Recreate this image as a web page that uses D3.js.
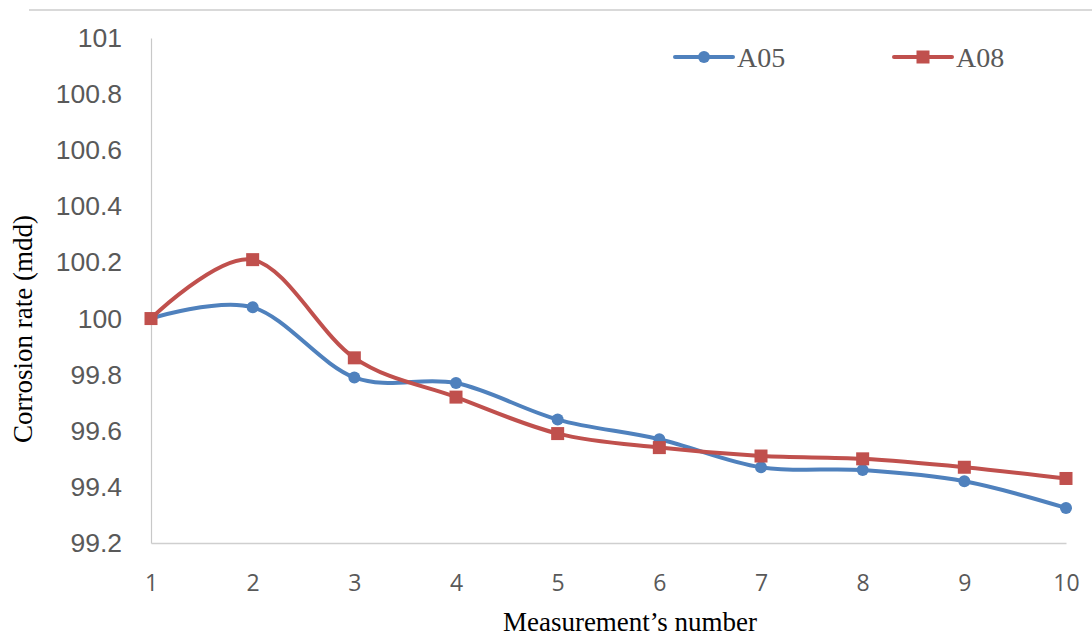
<!DOCTYPE html>
<html>
<head>
<meta charset="utf-8">
<script src="https://cdn.jsdelivr.net/npm/d3@7"></script>
<style>
  html, body { margin: 0; padding: 0; background: #fff; }
  svg { display: block; }
</style>
</head>
<body>
<svg id="chart" width="1092" height="638"></svg>
<script>
const categories = [1, 2, 3, 4, 5, 6, 7, 8, 9, 10];
const seriesA05 = [100.0, 100.04, 99.79, 99.77, 99.64, 99.57, 99.47, 99.46, 99.42, 99.325];
const seriesA08 = [100.0, 100.21, 99.86, 99.72, 99.59, 99.54, 99.51, 99.50, 99.47, 99.43];
const yTicks = [99.2, 99.4, 99.6, 99.8, 100, 100.2, 100.4, 100.6, 100.8, 101];
const yTickLabels = ["99.2", "99.4", "99.6", "99.8", "100", "100.2", "100.4", "100.6", "100.8", "101"];
const seriesNames = ["A05", "A08"];
const seriesColors = ["#4f81bd", "#c0504d"];

const svg = d3.select("#chart");
svg.append("rect").attr("width", 1092).attr("height", 638).attr("fill", "#fff");

// top border
svg.append("line").attr("x1", 29).attr("x2", 1092).attr("y1", 10).attr("y2", 10)
  .attr("stroke", "#d9d9d9").attr("stroke-width", 2);

const x = d3.scalePoint().domain(categories).range([151, 1066]);
const y = d3.scaleLinear().domain([99.2, 101]).range([543, 38]);

// y axis
const yAxis = d3.axisLeft(y).tickValues(yTicks)
  .tickFormat((d, i) => yTickLabels[i]).tickSize(0).tickPadding(29);
const gy = svg.append("g").attr("transform", "translate(151,0)").call(yAxis);
gy.select(".domain").attr("stroke", "#c8c8c8").attr("stroke-width", 1.2);
gy.selectAll("text").attr("fill", "#595959").attr("font-family", "'Liberation Sans', Arial, sans-serif")
  .attr("font-size", 26.5);

// x axis
const xAxis = d3.axisBottom(x).tickSize(0).tickPadding(32);
const gx = svg.append("g").attr("transform", "translate(0,543)").call(xAxis);
gx.select(".domain").attr("stroke", "#cfcfcf").attr("stroke-width", 1.5);
gx.selectAll("text").attr("fill", "#595959").attr("font-family", "'Open Sans', sans-serif")
  .attr("font-size", 23);

// axis titles
svg.append("text").attr("x", 630).attr("y", 631).attr("text-anchor", "middle")
  .attr("font-family", "'Liberation Serif', 'Times New Roman', serif").attr("font-size", 27)
  .attr("fill", "#000").text("Measurement’s number");
svg.append("text").attr("transform", "translate(32,329) rotate(-90)").attr("text-anchor", "middle")
  .attr("font-family", "'Liberation Serif', 'Times New Roman', serif").attr("font-size", 27)
  .attr("fill", "#000").text("Corrosion rate (mdd)");

const line = d3.line().x((d, i) => x(categories[i])).y(d => y(d)).curve(d3.curveCardinal.tension(0));

const allSeries = [seriesA05, seriesA08];
allSeries.forEach((vals, si) => {
  svg.append("path").datum(vals).attr("d", line).attr("fill", "none")
    .attr("stroke", seriesColors[si]).attr("stroke-width", 4).attr("stroke-linejoin", "round");
});

function marker(g, si, cx, cy) {
  if (si === 0) {
    g.append("circle").attr("cx", cx).attr("cy", cy).attr("r", 6).attr("fill", seriesColors[si]);
  } else {
    g.append("rect").attr("x", cx - 6.5).attr("y", cy - 6.5).attr("width", 13).attr("height", 13)
      .attr("fill", seriesColors[si]);
  }
}
allSeries.forEach((vals, si) => {
  const g = svg.append("g");
  vals.forEach((v, i) => marker(g, si, x(categories[i]), y(v)));
});

// legend
const legendX = [675, 894];
seriesNames.forEach((name, si) => {
  const g = svg.append("g");
  const lx = legendX[si];
  g.append("line").attr("x1", lx).attr("x2", lx + 58).attr("y1", 57).attr("y2", 57)
    .attr("stroke", seriesColors[si]).attr("stroke-width", 4).attr("stroke-linecap", "round");
  marker(g, si, lx + 29, 57);
  g.append("text").attr("x", lx + 62).attr("y", 67)
    .attr("font-family", "'Liberation Serif', 'Times New Roman', serif").attr("font-size", 28)
    .attr("fill", "#595959").text(name);
});
</script>
</body>
</html>
